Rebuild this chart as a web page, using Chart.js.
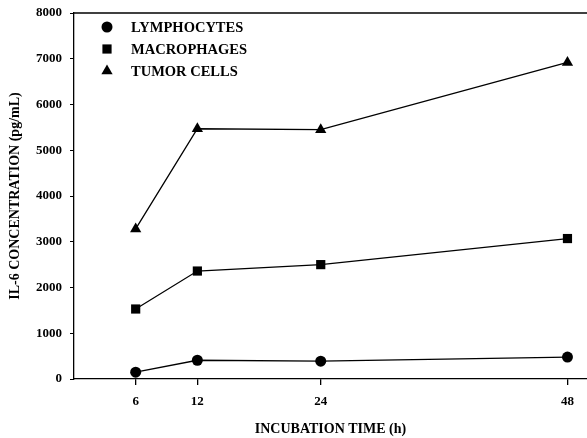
<!DOCTYPE html>
<html>
<head>
<meta charset="utf-8">
<script src="https://cdn.jsdelivr.net/npm/chart.js@4.4.1/dist/chart.umd.min.js"></script>
<style>
  html, body { margin: 0; padding: 0; background: #fff; }
  #wrap { width: 587px; height: 438px; }
</style>
</head>
<body>
<div id="wrap"><canvas id="il6Chart" width="587" height="438"></canvas></div>
<script>
// incubation times (h)
const hours = [6, 12, 24, 48];
const xTicks = [6, 12, 24, 48];

// IL-6 (pg/mL)
const lymphocytes = [150, 410, 390, 480];
const macrophages = [1530, 2360, 2500, 3070];
const tumorCells = [3280, 5470, 5450, 6920];

const seriesNames = ['LYMPHOCYTES', 'MACROPHAGES', 'TUMOR CELLS'];
const pointShapes = ['circle', 'rect', 'triangle'];
const pointSizes = [5.5, 6.5, 6.5];

const serif = "'Liberation Serif', 'DejaVu Serif', serif";

function toPoints(values) {
    return hours.map((h, i) => ({ x: h, y: values[i] }));
}

const datasets = [lymphocytes, macrophages, tumorCells].map((values, i) => ({
    label: seriesNames[i],
    data: toPoints(values),
    borderColor: '#000',
    backgroundColor: '#000',
    borderWidth: 1.3,
    pointStyle: pointShapes[i],
    pointRadius: pointSizes[i],
    pointBorderWidth: 0,
    tension: 0
}));

// legend inside the plot, top left, one row per series
const insideLegend = {
    id: 'insideLegend',
    afterDraw(chart) {
        const ctx = chart.ctx;
        const area = chart.chartArea;
        ctx.save();
        ctx.font = "bold 14.5px " + serif;
        ctx.textBaseline = 'middle';
        ctx.fillStyle = '#000';
        chart.data.datasets.forEach((ds, i) => {
            const y = area.top + 14 + i * 22;
            const x = 107;
            Chart.helpers.drawPoint(ctx, {
                pointStyle: ds.pointStyle,
                radius: ds.pointRadius,
                borderWidth: 0
            }, x, y);
            ctx.fillText(ds.label, 131, y + 1);
        });
        ctx.restore();
    }
};

// top frame line
const topLine = {
    id: 'topLine',
    afterDraw(chart) {
        const ctx = chart.ctx;
        const area = chart.chartArea;
        ctx.save();
        ctx.strokeStyle = '#000';
        ctx.lineWidth = 1.3;
        ctx.beginPath();
        ctx.moveTo(area.left, area.top);
        ctx.lineTo(area.right, area.top);
        ctx.stroke();
        ctx.restore();
    }
};

new Chart(document.getElementById('il6Chart').getContext('2d'), {
    type: 'line',
    data: { datasets: datasets },
    options: {
        responsive: false,
        animation: false,
        layout: { autoPadding: false, padding: { top: 13, right: 0, left: 0, bottom: 0 } },
        plugins: {
            legend: { display: false },
            tooltip: { enabled: false }
        },
        scales: {
            x: {
                type: 'linear',
                min: 0,
                max: 49.9,
                afterBuildTicks: axis => {
                    axis.ticks = xTicks.map(v => ({ value: v }));
                },
                afterFit: axis => {
                    axis.height = 59;
                    axis.paddingLeft = 0;
                    axis.paddingRight = 0;
                },
                ticks: {
                    color: '#000',
                    font: { family: serif, size: 13, weight: 'bold' },
                    padding: 9,
                    maxRotation: 0,
                    callback: v => String(v)
                },
                grid: {
                    drawOnChartArea: false,
                    drawTicks: true,
                    tickLength: 6,
                    color: '#000',
                    lineWidth: 1.3
                },
                border: { display: true, color: '#000', width: 1.3 },
                title: {
                    display: true,
                    text: 'INCUBATION TIME (h)',
                    color: '#000',
                    font: { family: serif, size: 14, weight: 'bold' },
                    padding: { top: 3, bottom: 0 }
                }
            },
            y: {
                min: 0,
                max: 8000,
                afterFit: axis => {
                    axis.width = 74;
                    axis.paddingTop = 0;
                    axis.paddingBottom = 0;
                },
                ticks: {
                    stepSize: 1000,
                    color: '#000',
                    font: { family: serif, size: 13, weight: 'bold' },
                    padding: 8,
                    callback: v => String(v)
                },
                grid: {
                    drawOnChartArea: false,
                    drawTicks: true,
                    tickLength: 4,
                    color: '#000',
                    lineWidth: 1
                },
                border: { display: true, color: '#000', width: 1.3 },
                title: {
                    display: true,
                    text: 'IL-6 CONCENTRATION (pg/mL)',
                    color: '#000',
                    font: { family: serif, size: 14, weight: 'bold' },
                    padding: { top: 7, bottom: 0 }
                }
            }
        }
    },
    plugins: [insideLegend, topLine]
});
</script>
</body>
</html>
